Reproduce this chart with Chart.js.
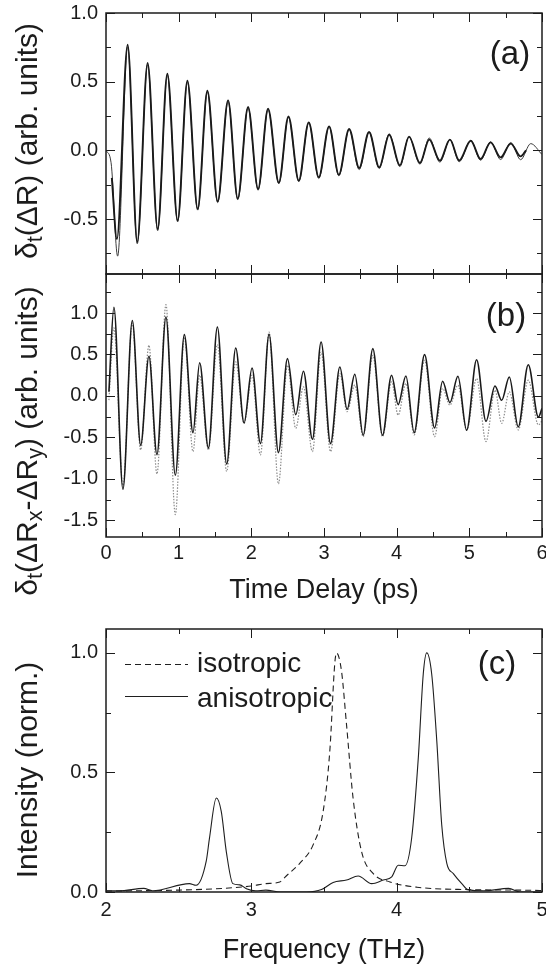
<!DOCTYPE html>
<html>
<head>
<meta charset="utf-8">
<script src="https://cdn.jsdelivr.net/npm/chart.js@4.4.1/dist/chart.umd.min.js"></script>
<style>
  body { margin: 0; background: #fff; }
  #wrap { position: relative; width: 546px; height: 968px; overflow: hidden; }
  canvas { position: absolute; left: 0; }
</style>
</head>
<body>
<div id="wrap">
  <canvas id="chartA" width="546" height="276" style="top:0"></canvas>
  <canvas id="chartB" width="546" height="346" style="top:264px"></canvas>
  <canvas id="chartC" width="546" height="358" style="top:610px"></canvas>
</div>
<script>
// panel (a): extrema of the two traces (ps, arb. units)
var aThickT = [0.08, 0.15, 0.298, 0.43, 0.573, 0.711, 0.844, 0.986, 1.12, 1.262, 1.395, 1.537, 1.68, 1.813, 1.955, 2.093, 2.23, 2.378, 2.511, 2.653, 2.79, 2.928, 3.07, 3.204, 3.346, 3.484, 3.62, 3.76, 3.897, 4.044, 4.17, 4.32, 4.448, 4.595, 4.733, 4.86, 5.02, 5.155, 5.293, 5.43, 5.57, 5.706, 5.78];
var aThickV = [-0.2, -0.645, 0.769, -0.666, 0.636, -0.572, 0.558, -0.511, 0.507, -0.426, 0.434, -0.371, 0.364, -0.351, 0.316, -0.281, 0.303, -0.235, 0.247, -0.22, 0.204, -0.196, 0.175, -0.177, 0.156, -0.128, 0.134, -0.124, 0.114, -0.109, 0.10, -0.092, 0.078, -0.075, 0.078, -0.073, 0.07, -0.063, 0.058, -0.051, 0.049, -0.044, 0.0];
var aThinT = [0, 0.07, 0.16, 0.298, 0.43, 0.573, 0.711, 0.844, 0.986, 1.12, 1.262, 1.395, 1.537, 1.68, 1.813, 1.955, 2.093, 2.23, 2.378, 2.511, 2.653, 2.79, 2.928, 3.07, 3.204, 3.346, 3.484, 3.62, 3.76, 3.897, 4.044, 4.17, 4.32, 4.448, 4.595, 4.733, 4.86, 5.02, 5.155, 5.293, 5.43, 5.57, 5.706, 5.845, 6.0];
var aThinV = [0.0, -0.09, -0.77, 0.755, -0.68, 0.625, -0.585, 0.548, -0.52, 0.497, -0.435, 0.425, -0.38, 0.356, -0.36, 0.31, -0.29, 0.297, -0.243, 0.242, -0.228, 0.2, -0.205, 0.172, -0.185, 0.152, -0.14, 0.132, -0.132, 0.12, -0.118, 0.098, -0.1, 0.09, -0.086, 0.08, -0.083, 0.072, -0.072, 0.062, -0.067, 0.057, -0.068, 0.049, -0.03];

// panel (b): solid and dotted traces share the same extremum times
var bT = [0.04, 0.109, 0.233, 0.362, 0.477, 0.591, 0.701, 0.825, 0.954, 1.078, 1.197, 1.289, 1.409, 1.533, 1.661, 1.785, 1.9, 2.01, 2.125, 2.244, 2.373, 2.497, 2.611, 2.717, 2.841, 2.96, 3.09, 3.218, 3.318, 3.424, 3.539, 3.672, 3.805, 3.93, 4.02, 4.127, 4.241, 4.384, 4.522, 4.632, 4.733, 4.843, 4.963, 5.1, 5.229, 5.353, 5.445, 5.55, 5.673, 5.811, 5.95, 6.0];
var bSolidV = [0.05, 1.07, -1.124, 0.91, -0.594, 0.478, -0.707, 0.95, -0.956, 0.739, -0.442, 0.401, -0.627, 0.831, -0.82, 0.578, -0.325, 0.337, -0.574, 0.743, -0.683, 0.45, -0.225, 0.297, -0.522, 0.65, -0.574, 0.349, -0.16, 0.261, -0.474, 0.57, -0.474, 0.249, -0.104, 0.241, -0.442, 0.498, -0.386, 0.177, -0.08, 0.237, -0.414, 0.437, -0.305, 0.12, -0.052, 0.229, -0.373, 0.377, -0.253, -0.15];
var bDotV = [-0.05, 0.82, -1.08, 0.88, -0.65, 0.61, -0.94, 1.1, -1.43, 0.71, -0.67, 0.25, -0.65, 0.62, -0.91, 0.41, -0.33, 0.25, -0.71, 0.77, -1.06, 0.37, -0.39, 0.11, -0.67, 0.53, -0.67, 0.27, -0.19, 0.13, -0.49, 0.49, -0.49, 0.17, -0.23, 0.15, -0.47, 0.43, -0.49, 0.09, -0.11, 0.13, -0.41, 0.21, -0.55, 0.07, -0.33, 0.05, -0.41, 0.19, -0.35, -0.3];

// panel (c): spectra (THz, normalised)
var cIsoF = [2.0, 2.5, 2.8, 3.0, 3.1, 3.196, 3.24, 3.333, 3.425, 3.494, 3.54, 3.574, 3.586, 3.62, 3.655, 3.70, 3.759, 3.839, 3.954, 4.14, 4.49, 4.95, 5.0];
var cIsoV = [0.004, 0.008, 0.015, 0.025, 0.035, 0.042, 0.067, 0.12, 0.197, 0.337, 0.59, 0.955, 1.0, 0.926, 0.70, 0.393, 0.168, 0.077, 0.042, 0.02, 0.01, 0.007, 0.006];
var cAnisoF = [2.0, 2.09, 2.26, 2.32, 2.574, 2.62, 2.69, 2.712, 2.759, 2.793, 2.828, 2.873, 2.92, 2.966, 3.03, 3.1, 3.2, 3.38, 3.483, 3.563, 3.655, 3.735, 3.828, 3.908, 3.966, 4.011, 4.057, 4.103, 4.149, 4.183, 4.207, 4.241, 4.276, 4.31, 4.345, 4.39, 4.448, 4.49, 4.6, 4.77, 4.85, 5.0];
var cAnisoV = [0.005, 0.005, 0.015, 0.005, 0.035, 0.028, 0.13, 0.225, 0.393, 0.337, 0.168, 0.035, 0.03, 0.014, 0.005, 0.008, 0.0, 0.0, 0.01, 0.04, 0.05, 0.067, 0.035, 0.05, 0.063, 0.112, 0.11, 0.225, 0.562, 0.912, 1.0, 0.912, 0.632, 0.281, 0.12, 0.077, 0.035, 0.01, 0.005, 0.015, 0.0, 0.0];

// tick values
var timeTicks = [0, 1, 2, 3, 4, 5, 6];
var timeMinor = [0.5, 1.5, 2.5, 3.5, 4.5, 5.5];
var aTicks = [-0.5, 0.0, 0.5, 1.0];
var aMinor = [-0.75, -0.25, 0.25, 0.75];
var bTicks = [-1.5, -1.0, -0.5, 0.0, 0.5, 1.0];
var bMinor = [-1.25, -0.75, -0.25, 0.25, 0.75, 1.25];
var freqTicks = [2, 3, 4, 5];
var freqMinor = [2.5, 3.5, 4.5];
var cTicks = [0.0, 0.5, 1.0];
var cMinor = [0.25, 0.75];

// texts
var titleA = [{ t: 'δ' }, { t: 't', sub: true }, { t: '(ΔR) (arb. units)' }];
var titleB = [{ t: 'δ' }, { t: 't', sub: true }, { t: '(ΔR' }, { t: 'x', sub: true }, { t: '-ΔR' }, { t: 'y', sub: true }, { t: ') (arb. units)' }];
var titleC = [{ t: 'Intensity (norm.)' }];

var ink = '#1c1c1c';
var FONT = '"Liberation Sans", Arial, Helvetica, sans-serif';
Chart.defaults.font.family = FONT;
Chart.defaults.color = ink;
Chart.defaults.animation = false;

function pts(xs, ys) {
  return xs.map(function (x, i) { return { x: x, y: ys[i] }; });
}

function xAxis(min, max, ticks, labels, title, h, pad, titlePad) {
  return {
    type: 'linear', min: min, max: max,
    grid: { display: false }, border: { display: false },
    afterBuildTicks: function (s) { s.ticks = ticks.map(function (v) { return { value: v }; }); },
    ticks: { display: labels, padding: pad, font: { size: 20 }, color: ink, maxRotation: 0, autoSkip: false },
    title: { display: !!title, text: title || '', font: { size: 27 }, color: ink, padding: { top: 0, bottom: titlePad } },
    afterFit: function (s) { s.height = h; s.paddingLeft = 0; s.paddingRight = 0; }
  };
}

function yAxis(min, max, ticks) {
  return {
    type: 'linear', min: min, max: max,
    grid: { display: false }, border: { display: false },
    afterBuildTicks: function (s) { s.ticks = ticks.map(function (v) { return { value: v }; }); },
    ticks: { padding: 0, font: { size: 20 }, color: ink, autoSkip: false, callback: function (v) { return v.toFixed(1); } },
    afterFit: function (s) { s.width = 106; s.paddingTop = 0; s.paddingBottom = 0; }
  };
}

// box + inward tick marks on all four sides
function frame(xMaj, xMin, yMaj, yMin) {
  return {
    id: 'frame',
    afterDatasetsDraw: function (chart) {
      var ctx = chart.ctx, a = chart.chartArea, x = chart.scales.x, y = chart.scales.y;
      ctx.save();
      ctx.strokeStyle = ink;
      ctx.lineWidth = 1;
      ctx.beginPath();
      function vx(list, len) {
        list.forEach(function (v) {
          var p = Math.round(x.getPixelForValue(v)) + 0.5;
          ctx.moveTo(p, a.bottom); ctx.lineTo(p, a.bottom - len);
          ctx.moveTo(p, a.top); ctx.lineTo(p, a.top + len);
        });
      }
      function vy(list, len) {
        list.forEach(function (v) {
          var p = Math.round(y.getPixelForValue(v)) + 0.5;
          ctx.moveTo(a.left, p); ctx.lineTo(a.left + len, p);
          ctx.moveTo(a.right, p); ctx.lineTo(a.right - len, p);
        });
      }
      vx(xMaj, 9); vx(xMin, 5); vy(yMaj, 9); vy(yMin, 5);
      ctx.stroke();
      ctx.lineWidth = 1.5;
      ctx.strokeRect(a.left, a.top, a.right - a.left, a.bottom - a.top);
      ctx.restore();
    }
  };
}

// rotated y title with subscripts, plus the panel tag
function labels(parts, cx, cy, tag, tx, ty) {
  return {
    id: 'labels',
    afterDraw: function (chart) {
      var ctx = chart.ctx, size = 30;
      ctx.save();
      ctx.fillStyle = ink;
      ctx.textBaseline = 'middle';
      ctx.translate(cx, cy);
      ctx.rotate(-Math.PI / 2);
      var w = 0;
      parts.forEach(function (p) {
        ctx.font = (p.sub ? size * 0.72 : size) + 'px ' + FONT;
        w += ctx.measureText(p.t).width;
      });
      var pos = -w / 2;
      parts.forEach(function (p) {
        ctx.font = (p.sub ? size * 0.72 : size) + 'px ' + FONT;
        ctx.fillText(p.t, pos, p.sub ? size * 0.25 : 0);
        pos += ctx.measureText(p.t).width;
      });
      ctx.restore();
      ctx.save();
      ctx.fillStyle = ink;
      ctx.font = '33px ' + FONT;
      ctx.textAlign = 'center';
      ctx.textBaseline = 'middle';
      ctx.fillText(tag, tx, ty);
      ctx.restore();
    }
  };
}

var legendC = {
  id: 'legendC',
  afterDraw: function (chart) {
    var ctx = chart.ctx;
    var lineY = [54, 86], textY = [62, 97];
    chart.data.datasets.forEach(function (ds, i) {
      ctx.save();
      ctx.strokeStyle = ds.borderColor;
      ctx.lineWidth = 1;
      ctx.setLineDash(ds.borderDash || []);
      ctx.beginPath();
      ctx.moveTo(125, lineY[i] + 0.5);
      ctx.lineTo(188, lineY[i] + 0.5);
      ctx.stroke();
      ctx.setLineDash([]);
      ctx.fillStyle = ink;
      ctx.font = '28px ' + FONT;
      ctx.textBaseline = 'alphabetic';
      ctx.fillText(ds.label, 197, textY[i]);
      ctx.restore();
    });
  }
};

function line(label, data, color, width, dash) {
  return {
    label: label, data: data, borderColor: color, borderWidth: width, borderDash: dash || [],
    pointRadius: 0, fill: false, cubicInterpolationMode: 'monotone'
  };
}

function baseOptions(pad, xs, ys) {
  return {
    responsive: false, animation: false, events: [],
    layout: { padding: pad },
    plugins: { legend: { display: false }, tooltip: { enabled: false } },
    scales: { x: xs, y: ys }
  };
}

new Chart(document.getElementById('chartA'), {
  type: 'line',
  data: { datasets: [
    line('fit', pts(aThickT, aThickV), '#1a1a1a', 1.9),
    line('measured', pts(aThinT, aThinV), '#3c3c3c', 1)
  ] },
  options: baseOptions({ top: 13, right: 4, bottom: 0, left: 0 },
    xAxis(0, 6, timeTicks, false, '', 2, 0, 0), yAxis(-0.9, 1.0, aTicks)),
  plugins: [frame(timeTicks, timeMinor, aTicks, aMinor), labels(titleA, 29, 141, '(a)', 510, 55)]
});

new Chart(document.getElementById('chartB'), {
  type: 'line',
  data: { datasets: [
    line('solid', pts(bT, bSolidV), '#1a1a1a', 1.6),
    line('dotted', pts(bT, bDotV), '#8c8c8c', 1.2, [1.5, 1.5])
  ] },
  options: baseOptions({ top: 10, right: 4, bottom: 0, left: 0 },
    xAxis(0, 6, timeTicks, true, 'Time Delay (ps)', 73, -4, 3), yAxis(-1.7, 1.47, bTicks)),
  plugins: [frame(timeTicks, timeMinor, bTicks, bMinor), labels(titleB, 29, 177, '(b)', 506, 53)]
});

new Chart(document.getElementById('chartC'), {
  type: 'line',
  data: { datasets: [
    line('isotropic', pts(cIsoF, cIsoV), '#1f1f1f', 1.1, [6, 4]),
    line('anisotropic', pts(cAnisoF, cAnisoV), '#1f1f1f', 1.1)
  ] },
  options: baseOptions({ top: 19, right: 4, bottom: 0, left: 0 },
    xAxis(2, 5, freqTicks, true, 'Frequency (THz)', 76, -2, 1), yAxis(0, 1.1, cTicks)),
  plugins: [frame(freqTicks, freqMinor, cTicks, cMinor), labels(titleC, 29, 160, '(c)', 497, 55), legendC]
});
</script>
</body>
</html>
